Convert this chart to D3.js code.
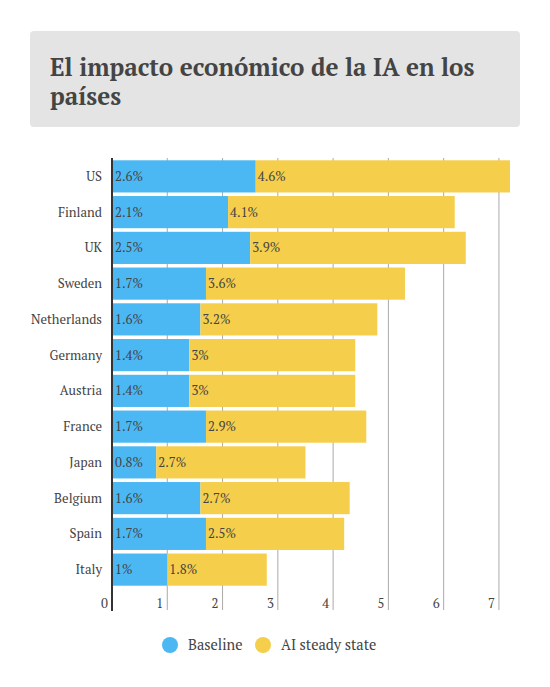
<!DOCTYPE html>
<html>
<head>
<meta charset="utf-8">
<script src="https://cdn.jsdelivr.net/npm/d3@7"></script>
<style>
  body { margin: 0; background: #fff; }
  svg text { font-family: "PT Serif", "DejaVu Serif", serif; }
</style>
</head>
<body>
<div id="chart"></div>
<script>
const countries = ['US', 'Finland', 'UK', 'Sweden', 'Netherlands', 'Germany', 'Austria', 'France', 'Japan', 'Belgium', 'Spain', 'Italy'];
const baseline = [2.6, 2.1, 2.5, 1.7, 1.6, 1.4, 1.4, 1.7, 0.8, 1.6, 1.7, 1.0];
const aiSteady = [4.6, 4.1, 3.9, 3.6, 3.2, 3.0, 3.0, 2.9, 2.7, 2.7, 2.5, 1.8];
const xTicks = [0, 1, 2, 3, 4, 5, 6, 7];
const seriesNames = ['Baseline', 'AI steady state'];
const colors = ['#4cb8f3', '#f5ce4b'];

const width = 550;
const height = 687;

const svg = d3.select('#chart').append('svg')
    .attr('width', width)
    .attr('height', height);

// Title box
svg.append('rect')
    .attr('x', 30).attr('y', 31)
    .attr('width', 490).attr('height', 96)
    .attr('rx', 4)
    .attr('fill', '#e4e4e4');

const title = svg.append('text')
    .attr('x', 50).attr('y', 76)
    .attr('font-size', 24.2)
    .attr('font-weight', 'bold')
    .attr('fill', '#444');
title.append('tspan').attr('x', 50).text('El impacto económico de la IA en los');
title.append('tspan').attr('x', 50).attr('dy', 29).text('países');

// Scales
const x = d3.scaleLinear().domain([0, 7.2]).range([112, 510]);
const y = d3.scaleBand().domain(countries).range([158.5, 587.5]).paddingInner(0.1).paddingOuter(0.05);

const rows = countries.map((c, i) => ({ country: c, base: baseline[i], ai: aiSteady[i] }));

// Grid lines
svg.append('g').selectAll('line')
    .data(xTicks.filter(d => d > 0))
    .enter().append('line')
    .attr('x1', d => x(d)).attr('x2', d => x(d))
    .attr('y1', 158).attr('y2', 610)
    .attr('stroke', '#aaa')
    .attr('stroke-width', 1);

// Tick labels sit just left of their grid line
svg.append('g').selectAll('text')
    .data(xTicks)
    .enter().append('text')
    .attr('x', d => x(d) - 4)
    .attr('y', 608)
    .attr('text-anchor', 'end')
    .attr('font-size', 13)
    .attr('fill', '#444')
    .text(d => d);

// Bars
const barG = svg.append('g');
barG.selectAll('rect.base')
    .data(rows)
    .enter().append('rect')
    .attr('class', 'base')
    .attr('x', x(0))
    .attr('y', d => y(d.country))
    .attr('width', d => x(d.base) - x(0))
    .attr('height', y.bandwidth())
    .attr('fill', colors[0]);

barG.selectAll('rect.ai')
    .data(rows)
    .enter().append('rect')
    .attr('class', 'ai')
    .attr('x', d => x(d.base))
    .attr('y', d => y(d.country))
    .attr('width', d => x(d.base + d.ai) - x(d.base))
    .attr('height', y.bandwidth())
    .attr('fill', colors[1]);

// Value labels
barG.selectAll('text.baseLabel')
    .data(rows)
    .enter().append('text')
    .attr('x', x(0) + 3)
    .attr('y', d => y(d.country) + y.bandwidth() / 2 + 4.5)
    .attr('font-size', 13)
    .attr('fill', '#444')
    .text(d => d.base + '%');

barG.selectAll('text.aiLabel')
    .data(rows)
    .enter().append('text')
    .attr('x', d => x(d.base) + 2)
    .attr('y', d => y(d.country) + y.bandwidth() / 2 + 4.5)
    .attr('font-size', 13)
    .attr('fill', '#444')
    .text(d => d.ai + '%');

// Category labels
svg.append('g').selectAll('text')
    .data(countries)
    .enter().append('text')
    .attr('x', 102)
    .attr('y', d => y(d) + y.bandwidth() / 2 + 4.5)
    .attr('text-anchor', 'end')
    .attr('font-size', 13)
    .attr('fill', '#444')
    .text(d => d);

// Axis line
svg.append('line')
    .attr('x1', x(0)).attr('x2', x(0))
    .attr('y1', 158).attr('y2', 611)
    .attr('stroke', '#333')
    .attr('stroke-width', 2);

// Legend
const legendX = [170, 263];
const legend = svg.append('g').selectAll('g')
    .data(seriesNames)
    .enter().append('g')
    .attr('transform', (d, i) => `translate(${legendX[i]},645)`);
legend.append('circle')
    .attr('r', 8)
    .attr('fill', (d, i) => colors[i]);
legend.append('text')
    .attr('x', 18)
    .attr('y', 5)
    .attr('font-size', 14.5)
    .attr('fill', '#444')
    .text(d => d);
</script>
</body>
</html>
